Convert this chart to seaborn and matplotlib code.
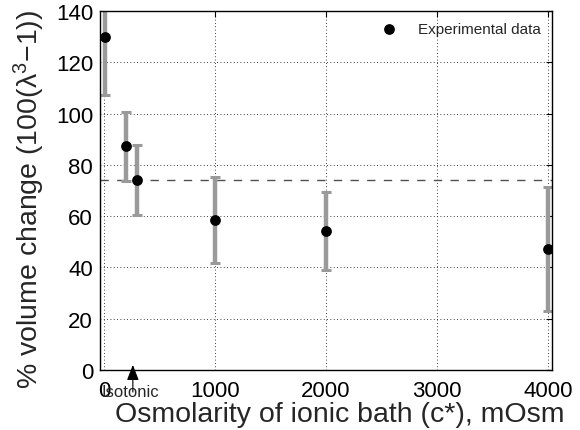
import numpy as np
import pandas as pd
import matplotlib
matplotlib.use("Agg")
import matplotlib.pyplot as plt
import seaborn as sns

# Data
osmolarity = [10, 200, 300, 1000, 2000, 4000]
volume_change = [129.9, 87.2, 74.1, 58.5, 54.2, 47.2]
volume_err = [22.5, 13.6, 13.8, 16.7, 15.2, 24.1]
isotonic_level = 74.1
isotonic_x = 260
x_ticks = [0, 1000, 2000, 3000, 4000]
y_ticks = [0, 20, 40, 60, 80, 100, 120, 140]

sns.set_style("white")
plt.rcParams['font.family'] = ['Liberation Sans', 'DejaVu Sans']
plt.rcParams['mathtext.fontset'] = 'custom'
plt.rcParams['mathtext.rm'] = 'Liberation Sans'
plt.rcParams['mathtext.it'] = 'Liberation Sans:italic'
plt.rcParams['mathtext.default'] = 'regular'

df = pd.DataFrame({"c": osmolarity, "v": volume_change, "e": volume_err})

fig = plt.figure(figsize=(5.8, 4.31), dpi=100)
ax = fig.add_axes([100/580, 1-371/431, 452/580, 359/431])

ax.errorbar(df["c"], df["v"], yerr=df["e"], fmt='none', ecolor='#9a9a9a',
            elinewidth=3.2, capsize=3.3, capthick=2.2, zorder=2)
ax.axhline(isotonic_level, color='#505050', lw=1.0, ls=(0, (6, 6)), zorder=1)
sns.scatterplot(data=df, x="c", y="v", ax=ax, color='black', s=60,
                edgecolor='black', linewidth=0, zorder=3, label='Experimental data')

ax.set_xlim(-36, 4036)
ax.set_ylim(0, 140)
ax.set_xticks(x_ticks)
ax.set_yticks(y_ticks)
ax.grid(True, color='black', linestyle=(0, (1, 3)), linewidth=0.6)
ax.tick_params(direction='in', top=True, right=True, length=4, width=0.8,
               labelsize=16, colors='black')
ax.tick_params(axis='x', pad=7)
ax.tick_params(axis='y', pad=5)
for s in ax.spines.values():
    s.set_color('black')
    s.set_linewidth(1.0)

ax.set_xlabel('Osmolarity of ionic bath (c*), mOsm', fontsize=20.5)
ax.xaxis.label.set_va('baseline')
ax.xaxis.set_label_coords(0.531, -0.141)
ax.set_ylabel('% volume change (100(λ$^3$−1))', fontsize=20.5)
ax.yaxis.set_label_coords(-0.118, 0.478)

# isotonic marker: arrow + label
ax.annotate('', xy=(isotonic_x, 2.0), xycoords='data',
            xytext=(isotonic_x, -8.6), textcoords='data',
            arrowprops=dict(arrowstyle='-|>,head_length=0.67,head_width=0.26',
                            color='black', lw=0.8, mutation_scale=14,
                            shrinkA=0, shrinkB=0),
            annotation_clip=False, zorder=5)
ax.text(240, -10.1, 'Isotonic', ha='center', va='baseline', fontsize=12,
        clip_on=False)

leg = ax.legend(loc='upper right', fontsize=11, frameon=False,
                handletextpad=0.9, borderaxespad=0.3, markerscale=1.0)

fig.savefig('out.png', dpi=100)
